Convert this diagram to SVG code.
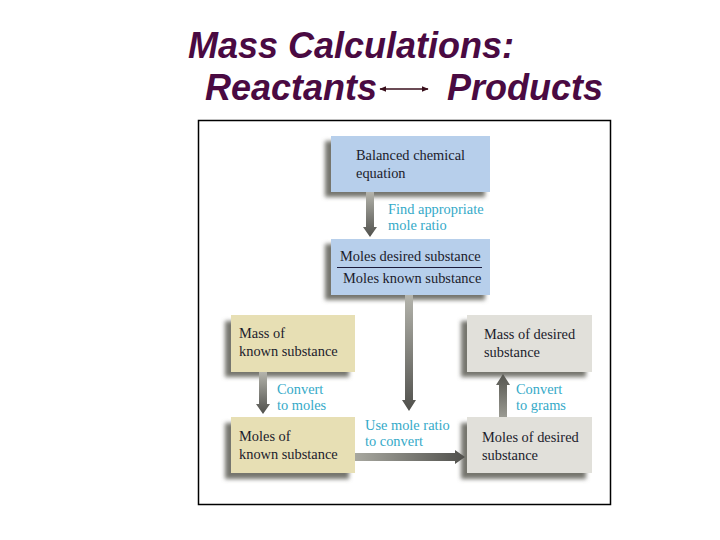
<svg xmlns="http://www.w3.org/2000/svg" width="720" height="540" viewBox="0 0 720 540">
<defs>
<filter id="blur" x="-20%" y="-20%" width="140%" height="140%"><feGaussianBlur stdDeviation="2"/></filter>
<linearGradient id="gDown" x1="0" y1="0" x2="0" y2="1"><stop offset="0" stop-color="#b4b4ac"/><stop offset="1" stop-color="#50504c"/></linearGradient>
<linearGradient id="gUp" x1="0" y1="1" x2="0" y2="0"><stop offset="0" stop-color="#9a9a92"/><stop offset="1" stop-color="#55554f"/></linearGradient>
<linearGradient id="gRight" x1="0" y1="0" x2="1" y2="0"><stop offset="0" stop-color="#a8a8a0"/><stop offset="1" stop-color="#50504c"/></linearGradient>
<marker id="ah" viewBox="0 0 10 10" refX="9" refY="5" markerWidth="7" markerHeight="7" orient="auto-start-reverse" markerUnits="userSpaceOnUse"><path d="M0,1 L10,5 L0,9 Z" fill="#3a0f1c"/></marker>
</defs>
<style>
.title{font-family:"Liberation Sans",Arial,sans-serif;font-weight:bold;font-style:italic;font-size:36px;fill:#4a0a42}
.bt{font-family:"Liberation Serif","Times New Roman",serif;font-size:14.4px;fill:#1c1c2c}
.lb{font-family:"Liberation Serif","Times New Roman",serif;font-size:14.4px;fill:#35aac8}
.sh{fill:#76766e;filter:url(#blur)}
.blue{fill:#b7cfeb}
.tan{fill:#e7dfb4}
.gray{fill:#e1e0da}
</style>
<rect x="0" y="0" width="720" height="540" fill="#ffffff"/>
<text class="title" x="188" y="58">Mass Calculations:</text>
<text class="title" x="205" y="100">Reactants</text>
<text class="title" x="447" y="100">Products</text>
<line x1="380" y1="89" x2="428" y2="89" stroke="#3a0f1c" stroke-width="1.5" marker-start="url(#ah)" marker-end="url(#ah)"/>
<rect x="198.5" y="120.5" width="412" height="384" fill="none" stroke="#000" stroke-width="1.5"/>

<g id="node-balanced">
<rect class="sh" x="325" y="141" width="160" height="56"/>
<rect class="blue" x="331" y="136" width="159" height="56"/>
<text class="bt" x="356" y="160">Balanced chemical</text>
<text class="bt" x="356" y="178">equation</text>
</g>
<g id="node-ratio">
<rect class="sh" x="325" y="244" width="160" height="56"/>
<rect class="blue" x="331" y="239" width="159" height="56"/>
<text class="bt" x="340" y="261">Moles desired substance</text>
<line x1="337" y1="267.5" x2="482" y2="267.5" stroke="#1c1c3c" stroke-width="1.2"/>
<text class="bt" x="343" y="283">Moles known substance</text>
</g>
<g id="node-mass-known">
<rect class="sh" x="225" y="321" width="124" height="56"/>
<rect class="tan" x="231" y="315" width="124" height="57"/>
<text class="bt" x="239" y="338">Mass of</text>
<text class="bt" x="239" y="356">known substance</text>
</g>
<g id="node-moles-known">
<rect class="sh" x="225" y="423" width="124" height="56"/>
<rect class="tan" x="231" y="417" width="124" height="56"/>
<text class="bt" x="239" y="441">Moles of</text>
<text class="bt" x="239" y="459">known substance</text>
</g>
<g id="node-mass-desired">
<rect class="sh" x="461" y="321" width="125" height="56"/>
<rect class="gray" x="467" y="315" width="125" height="57"/>
<text class="bt" x="484" y="339">Mass of desired</text>
<text class="bt" x="484" y="357">substance</text>
</g>
<g id="node-moles-desired">
<rect class="sh" x="461" y="423" width="125" height="56"/>
<rect class="gray" x="467" y="417" width="125" height="56"/>
<text class="bt" x="482" y="442">Moles of desired</text>
<text class="bt" x="482" y="460">substance</text>
</g>

<g id="connectors">
<path d="M366,192 H374 V227 H377 L370,237 L363,227 H366 Z" fill="url(#gDown)"/>
<path d="M405,295 H413 V400 H416 L409,411 L402,400 H405 Z" fill="url(#gDown)"/>
<path d="M259,372 H267 V404 H270 L263,414 L256,404 H259 Z" fill="url(#gDown)"/>
<path d="M499,417 H507 V385 H510 L503,374 L496,385 H499 Z" fill="url(#gUp)"/>
<path d="M355,453 H455 V450 L465,457 L455,464 V461 H355 Z" fill="url(#gRight)"/>
<text class="lb" x="388" y="214">Find appropriate</text>
<text class="lb" x="388" y="230">mole ratio</text>
<text class="lb" x="277" y="394">Convert</text>
<text class="lb" x="277" y="410">to moles</text>
<text class="lb" x="365" y="430">Use mole ratio</text>
<text class="lb" x="365" y="446">to convert</text>
<text class="lb" x="516" y="394">Convert</text>
<text class="lb" x="516" y="410">to grams</text>
</g>
</svg>
